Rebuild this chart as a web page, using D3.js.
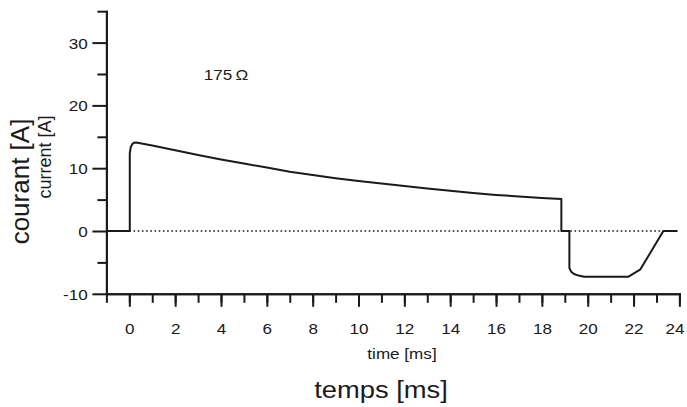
<!DOCTYPE html>
<html>
<head>
<meta charset="utf-8">
<script src="https://cdn.jsdelivr.net/npm/d3@7"></script>
<style>
  html, body { margin: 0; padding: 0; background: #fff; }
  svg { display: block; }
  text { font-family: "Liberation Sans", Arial, Helvetica, sans-serif; fill: #1a1a1a; }
</style>
</head>
<body>
<svg id="chart" width="687" height="407"></svg>
<script>
// ---- data ----
const timeMs = [-1, 0.02, 0.02, 0.06, 0.12, 0.2, 0.3, 1, 2, 3, 4, 5, 6, 7, 8, 9, 10, 11, 12, 13, 14, 15, 16, 17, 18, 18.85,
                18.85, 19.2, 19.2, 19.28, 19.4, 19.6, 19.85, 21.78, 22.3, 23.3, 23.92];
const currentA = [0, 0, 12.4, 13.3, 13.8, 14.05, 14.1, 13.6, 12.85, 12.1, 11.4, 10.75, 10.1, 9.45, 8.9, 8.4, 7.95, 7.55, 7.15, 6.75, 6.4, 6.05, 5.75, 5.5, 5.25, 5.1,
                  0, 0, -5.9, -6.5, -6.85, -7.1, -7.28, -7.28, -6.1, 0, 0];
const zeroLine = [0, 24];
const xMajorTicks = [0, 2, 4, 6, 8, 10, 12, 14, 16, 18, 20, 22, 24];
const xMinorTicks = d3.range(-1, 25, 1);
const yMajorTicks = [-10, 0, 10, 20, 30];
const yMinorTicks = [-5, 5, 15, 25, 35];
const annotation = "175\u2009Ω";

// ---- layout ----
const svg = d3.select("#chart");
const x = d3.scaleLinear().domain([-1, 24]).range([106.4, 679.4]);
const y = d3.scaleLinear().domain([-10, 35]).range([293.8, 11.2]);
const SX = 1.14; // horizontal stretch of the reference's glyphs
const ink = "#1a1a1a";

// zero dotted line
svg.append("line")
  .attr("x1", x(zeroLine[0])).attr("x2", x(zeroLine[1]))
  .attr("y1", y(0)).attr("y2", y(0))
  .attr("stroke", ink).attr("stroke-width", 1.6)
  .attr("stroke-dasharray", "1.6,2.6");

// curve
const pts = timeMs.map((t, i) => [t, currentA[i]]);
svg.append("path")
  .datum(pts)
  .attr("fill", "none")
  .attr("stroke", ink)
  .attr("stroke-width", 2)
  .attr("stroke-linejoin", "round")
  .attr("d", d3.line().x(d => x(d[0])).y(d => y(d[1])));

// axes
function styleAxis(g) {
  g.selectAll("path, line").attr("stroke", ink).attr("stroke-width", 2);
  g.select(".domain").attr("stroke-linecap", "square");
}
// x minor
svg.append("g").attr("transform", `translate(0,${y(-10)})`)
  .call(d3.axisBottom(x).tickValues(xMinorTicks).tickSize(9).tickSizeOuter(0).tickFormat(""))
  .call(styleAxis);
// x major
const gxM = svg.append("g").attr("transform", `translate(0,${y(-10)})`)
  .call(d3.axisBottom(x).tickValues(xMajorTicks).tickSize(13).tickSizeOuter(0).tickFormat(d => String(d)))
  .call(styleAxis);
gxM.selectAll("text")
  .attr("y", 40).attr("dy", 0)
  .attr("x", d => d === 24 ? -5 / SX : 0)
  .attr("font-size", 15)
  .attr("fill", ink)
  .attr("font-family", "Liberation Sans, Arial, sans-serif")
  .attr("transform", `scale(${SX},1)`);
// y minor
svg.append("g").attr("transform", `translate(${x(-1)},0)`)
  .call(d3.axisLeft(y).tickValues(yMinorTicks).tickSize(9).tickSizeOuter(0).tickFormat(""))
  .call(styleAxis);
// y major
const gyM = svg.append("g").attr("transform", `translate(${x(-1)},0)`)
  .call(d3.axisLeft(y).tickValues(yMajorTicks).tickSize(14).tickSizeOuter(0).tickFormat(d => String(d)))
  .call(styleAxis);
gyM.selectAll("text")
  .attr("x", -18.7 / SX).attr("dy", "0.36em")
  .attr("font-size", 15)
  .attr("fill", ink)
  .attr("font-family", "Liberation Sans, Arial, sans-serif")
  .attr("transform", `scale(${SX},1)`);

// axis titles
svg.append("text")
  .attr("transform", `translate(402,359) scale(${SX},1)`)
  .attr("text-anchor", "middle").attr("font-size", 15)
  .text("time [ms]");
svg.append("text")
  .attr("transform", `translate(381,398) scale(${SX},1)`)
  .attr("text-anchor", "middle").attr("font-size", 24)
  .text("temps [ms]");
svg.append("text")
  .attr("transform", "translate(50.5,157) rotate(-90)")
  .attr("text-anchor", "middle").attr("font-size", 18)
  .text("current [A]");
svg.append("text")
  .attr("transform", "translate(28.5,181.5) rotate(-90)")
  .attr("text-anchor", "middle").attr("font-size", 26)
  .text("courant [A]");

// annotation
svg.append("text")
  .attr("transform", `translate(226,80) scale(${SX},1)`)
  .attr("text-anchor", "middle").attr("font-size", 15)
  .text(annotation);
</script>
</body>
</html>
